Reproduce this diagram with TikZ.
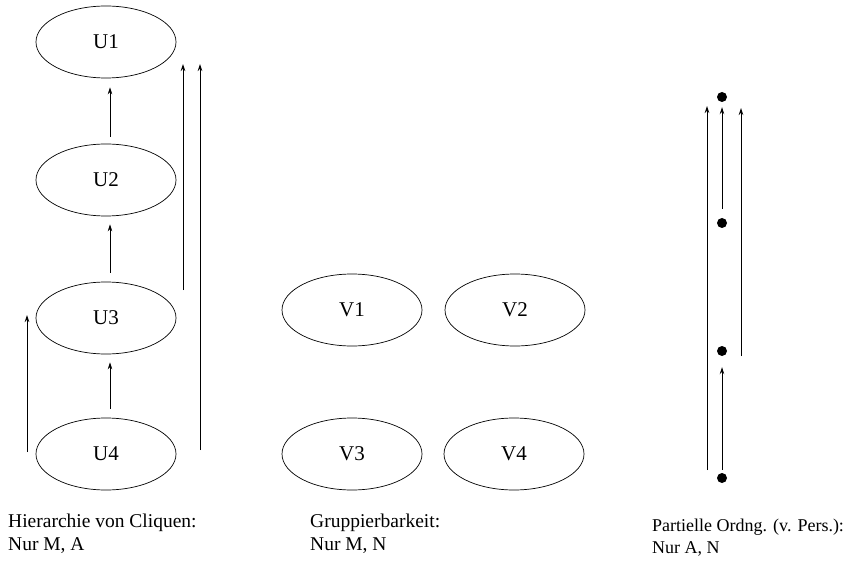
\documentclass[tikz,border=0pt]{standalone}
\usepackage{fontspec}
\setmainfont{Liberation Serif}
\usetikzlibrary{shapes.geometric,arrows.meta}
\begin{document}
\begin{tikzpicture}[x=1pt,y=-1pt,
  blob/.style={draw,line width=0.7pt,ellipse,minimum width=140pt,minimum height=72pt,inner sep=0pt,font=\fontsize{21}{24}\selectfont},
  pt/.style={circle,fill=black,minimum size=10pt,inner sep=0pt},
  rel/.style={line width=0.8pt,-{Stealth[length=7pt,width=4.5pt]}},
  caption/.style={anchor=west,align=left,inner sep=0pt,font=\fontsize{19.5}{23}\selectfont}]
\useasboundingbox (0,0) rectangle (853,561);

% cliques hierarchy
\node[blob] (U1) at (106,42) {U1};
\node[blob] (U2) at (106,180) {U2};
\node[blob] (U3) at (106,318) {U3};
\node[blob] (U4) at (106,454) {U4};
\draw[rel,shorten <=7pt,shorten >=9pt] ([xshift=4pt]U2.north) -- ([xshift=4pt]U1.south);
\draw[rel,shorten <=9pt,shorten >=8pt] ([xshift=4pt]U3.north) -- ([xshift=4pt]U2.south);
\draw[rel,shorten <=9pt,shorten >=8pt] ([xshift=4pt]U4.north) -- ([xshift=4pt]U3.south);
\coordinate (a1) at (27,452);  \coordinate (a2) at (27,315);
\coordinate (b1) at (183,290); \coordinate (b2) at (183,64);
\coordinate (c1) at (200,450); \coordinate (c2) at (200,64);
\draw[rel] (a1) -- (a2);
\draw[rel] (b1) -- (b2);
\draw[rel] (c1) -- (c2);

% grouping
\node[blob] (V1) at (352,310) {V1};
\node[blob] (V2) at (515,310) {V2};
\node[blob] (V3) at (352,454) {V3};
\node[blob] (V4) at (514,454) {V4};

% partial order
\node[pt] (d1) at (722,97) {};
\node[pt] (d2) at (722,223) {};
\node[pt] (d3) at (722,351) {};
\node[pt] (d4) at (722,478) {};
\draw[rel,shorten <=3pt,shorten >=11pt] (d4) -- (d3);
\draw[rel,shorten <=9pt,shorten >=5pt] (d2) -- (d1);
\coordinate (e1) at (707,470); \coordinate (e2) at (707,106);
\coordinate (f1) at (741,356); \coordinate (f2) at (741,108);
\draw[rel] (e1) -- (e2);
\draw[rel] (f1) -- (f2);

% captions
\node[caption] (capU) at (8,534) {Hierarchie von Cliquen:\\Nur M, A};
\node[caption] (capV) at (310,534) {Gruppierbarkeit:\\Nur M, N};
\node[caption,font=\fontsize{18}{22}\selectfont] (capP) at (652,538) {Partielle Ordng. (v. Pers.):\\Nur A, N};
\end{tikzpicture}
\end{document}
